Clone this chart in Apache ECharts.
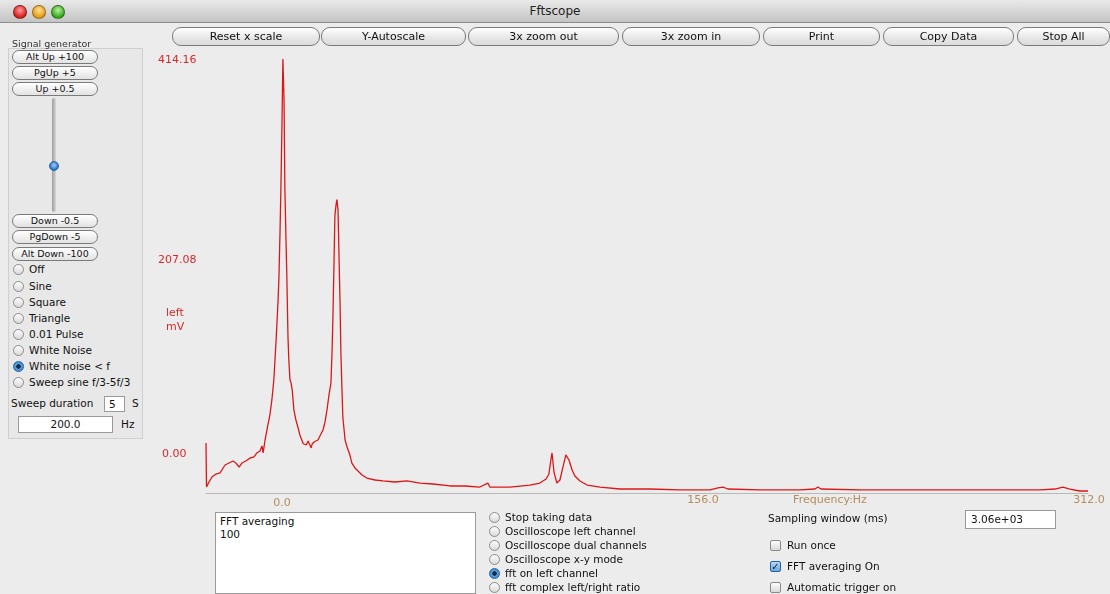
<!DOCTYPE html>
<html><head><meta charset="utf-8">
<script src="https://cdn.jsdelivr.net/npm/echarts@6/dist/echarts.min.js"></script>
<style>
html,body{margin:0;padding:0;width:1110px;height:594px;overflow:hidden;background:#ececec;font-family:"DejaVu Sans",sans-serif;}
#chart{position:absolute;left:0;top:0;width:1110px;height:594px;}
.ui{position:absolute;z-index:2;white-space:nowrap;color:#111;}
.titlebar{left:0;top:0;width:1110px;height:22px;background:linear-gradient(#e9e9e9,#c4c4c4);border-bottom:1px solid #8e8e8e;font-size:12px;text-align:center;line-height:22px;color:#222;}
.light{width:12px;height:12px;border-radius:50%;top:5px;border:1px solid rgba(0,0,0,0.35);}
.btn{height:17px;border:1px solid #7a7a7a;border-radius:9px;background:linear-gradient(#ffffff,#e6e6e6 60%,#dcdcdc);text-align:center;line-height:17px;font-size:11px;}
.sbtn{height:12px;border:1px solid #7a7a7a;border-radius:7px;background:linear-gradient(#ffffff,#e2e2e2);text-align:center;line-height:12px;font-size:9.5px;}
.lbl{font-size:10.5px;}
.radio{width:11px;height:11px;border-radius:50%;border:1px solid #8a8a8a;background:linear-gradient(#fdfdfd,#dadada);box-sizing:border-box;}
.radio.on{background:radial-gradient(circle,#1a2a40 0 2px,#5aa6e8 2.5px,#2f78c9 6px);border-color:#2a5f9e;}
.chk{width:11px;height:11px;border-radius:2px;border:1px solid #8a8a8a;background:linear-gradient(#fdfdfd,#dadada);box-sizing:border-box;font-size:10px;line-height:9px;text-align:center;color:#123;}
.chk.on{background:linear-gradient(#b6d8f6,#6aa6e2);border-color:#2a5f9e;}
.box{background:#fff;border:1px solid #9a9a9a;box-sizing:border-box;font-size:10.5px;}
</style></head>
<body>
<div id="chart"></div>
<div class="ui titlebar">Fftscope</div>
<div class="ui light" style="left:13px;background:radial-gradient(circle at 50% 35%,#ff9a9a,#d81d1d 70%);"></div>
<div class="ui light" style="left:32px;background:radial-gradient(circle at 50% 35%,#ffe09a,#e79b12 70%);"></div>
<div class="ui light" style="left:51px;background:radial-gradient(circle at 50% 35%,#b8f0a0,#36a81e 70%);"></div>
<div id="ui"></div>
<script>
// ---- chart data (frequency Hz, amplitude mV) ----
var freqHz = [0,0.18,1.06,2.12,3.54,4.95,6.72,8.13,9.55,10.6,11.7,12.7,14.1,15.6,17.0,18.0,19.1,19.8,20.2,20.9,21.9,22.6,23.3,24.0,24.8,25.5,25.8,26.2,26.5,26.9,27.2,27.6,27.9,28.3,28.6,29.0,29.3,29.7,30.1,30.5,31.1,31.8,32.5,33.2,33.9,34.4,35.0,35.5,36.1,36.8,37.2,37.5,38.2,38.9,39.6,40.3,41.4,42.1,42.8,43.5,44.2,44.6,44.9,45.3,45.6,46.0,46.3,46.7,47.0,47.4,47.7,48.1,48.4,49.2,49.9,50.9,51.6,52.7,53.4,55.2,56.9,59.8,62.6,66.8,71.1,75.7,80.3,86.3,91.6,96.9,99.7,100.4,107.5,114.6,118.1,120.3,121.3,122.0,122.4,122.7,123.1,124.1,125.2,126.2,127.3,127.7,128.4,129.5,130.5,132.3,134.8,139.4,146.4,157.0,167.6,178.3,181.1,182.9,184.6,196.0,210.0,215.4,216.5,217.5,231.3,245.5,263.2,280.8,295.0,300.3,303.1,305.6,309.1,312.0];
var ampMv = [47.7,5.7,10.5,15.3,18.1,19.1,26.7,28.6,30.5,28.6,24.8,28.6,30.5,33.4,34.4,38.2,40.1,44.9,38.2,50.6,64.9,74.4,88.8,107.8,146,184,206,251,291,356,414.16,375,291,241,206,149,127,108,105,98,79.2,69.7,63,55.4,50.6,47.0,48.7,46.0,49.6,47.7,43.0,46.5,48.7,47.7,50.6,54.4,60.1,67.8,79.2,93.5,105,136,168,222,265,275,280,270,232,184,136,98.3,72.5,50.6,43.9,36.3,28.6,23.9,21.9,17.2,14.3,12.4,11.5,10.5,11.5,9.5,8.6,6.7,6.7,5.7,9.5,5.7,5.7,7.6,9.5,13.4,18.1,31.5,38.2,36.3,20.0,9.5,12.4,23.9,36.3,37.2,31.5,21.9,16.2,11.5,7.6,5.7,3.8,3.8,2.9,2.9,4.8,5.7,3.8,2.9,2.9,3.8,5.7,3.8,2.9,2.9,2.9,2.9,2.9,3.8,5.7,3.8,1.9,1.9];
var yTickLabels = ["414.16","207.08","0.00"];
var xTickLabels = ["0.0","156.0","312.0"];
var yUnitLabel = "left\nmV";
var xUnitLabel = "Frequency:Hz";

var pts = freqHz.map(function(f,i){return [f, ampMv[i]];});
var chart = echarts.init(document.getElementById('chart'), null, {renderer:'canvas'});
var red = '#d42a2a', tan = '#b58d5c';
var gtexts = [
  {type:'text', left:158, top:55, style:{text:yTickLabels[0], fill:red, font:'11px "DejaVu Sans"'}},
  {type:'text', left:158, top:255, style:{text:yTickLabels[1], fill:red, font:'11px "DejaVu Sans"'}},
  {type:'text', left:166, top:306, style:{text:yUnitLabel, fill:red, font:'11px "DejaVu Sans"', lineHeight:14}},
  {type:'text', left:162, top:449, style:{text:yTickLabels[2], fill:red, font:'11px "DejaVu Sans"'}},
  {type:'text', x:282, y:503, style:{text:xTickLabels[0], fill:tan, font:'11px "DejaVu Sans"', textAlign:'center', textVerticalAlign:'middle'}},
  {type:'text', x:703, y:500, style:{text:xTickLabels[1], fill:tan, font:'11px "DejaVu Sans"', textAlign:'center', textVerticalAlign:'middle'}},
  {type:'text', x:830, y:500, style:{text:xUnitLabel, fill:tan, font:'11px "DejaVu Sans"', textAlign:'center', textVerticalAlign:'middle'}},
  {type:'text', x:1089, y:500, style:{text:xTickLabels[2], fill:tan, font:'11px "DejaVu Sans"', textAlign:'center', textVerticalAlign:'middle'}}
];
chart.setOption({
  animation:false,
  backgroundColor:'#ececec',
  grid:{left:206, right:22, top:59, bottom:101},
  xAxis:{type:'value', min:0, max:312, axisLine:{show:true, lineStyle:{color:'#b9b9b9', width:1}}, axisTick:{show:false}, axisLabel:{show:false}, splitLine:{show:false}},
  yAxis:{type:'value', min:0, max:414.16, axisLine:{show:false}, axisTick:{show:false}, axisLabel:{show:false}, splitLine:{show:false}},
  graphic:gtexts,
  series:[{type:'line', data:pts, showSymbol:false, lineStyle:{color:'#dc1616', width:1.3}, itemStyle:{color:'#dc1616'}}]
});

// ---- UI chrome ----
var ui = document.getElementById('ui');
function add(cls, l, t, w, h, txt, extra){
  var d = document.createElement('div');
  d.className = 'ui ' + cls;
  d.style.left = l + 'px'; d.style.top = t + 'px';
  if (w) d.style.width = w + 'px';
  if (h) d.style.height = h + 'px';
  if (txt !== undefined) d.textContent = txt;
  if (extra) d.setAttribute('style', d.getAttribute('style') + extra);
  ui.appendChild(d); return d;
}
var topBtns = [["Reset x scale",172,146],["Y-Autoscale",321,143],["3x zoom out",468,149],["3x zoom in",622,136],["Print",763,115],["Copy Data",883,129],["Stop All",1017,91]];
topBtns.forEach(function(b){ add('btn', b[1], 27, b[2], null, b[0]); });
add('lbl', 12, 38, null, null, 'Signal generator', 'font-size:9.5px;color:#333;');
add('', 8, 48, 133, 389, undefined, 'border:1px solid #cfcfcf;background:#e8e8e8;z-index:1;');
var sb = [["Alt Up  +100",50],["PgUp +5",66],["Up +0.5",82],["Down -0.5",214],["PgDown -5",230],["Alt Down -100",247]];
sb.forEach(function(b){ add('sbtn', 12, b[1], 84, null, b[0]); });
add('', 52, 98, 4, 114, undefined, 'background:linear-gradient(90deg,#9a9a9a,#d8d8d8);border-radius:2px;');
add('', 49, 161, 10, 10, undefined, 'border-radius:50%;background:radial-gradient(circle at 50% 40%,#9fd0ff,#2a73c8 70%);border:1px solid #2a5f9e;box-sizing:border-box;');
var radios = [["Off",270],["Sine",287],["Square",303],["Triangle",319],["0.01 Pulse",335],["White Noise",351],["White noise < f",367,1],["Sweep sine f/3-5f/3",383]];
radios.forEach(function(r){ add('radio' + (r[2]?' on':''), 13, r[1]-6); add('lbl', 29, r[1]-7, null, null, r[0]); });
add('lbl', 11, 397, null, null, 'Sweep duration');
add('box', 104, 396, 21, 16, '5', 'padding-left:4px;line-height:14px;');
add('lbl', 132, 397, null, null, 'S');
add('box', 18, 416, 95, 17, '200.0', 'text-align:center;line-height:15px;');
add('lbl', 121, 418, null, null, 'Hz');
add('box', 215, 512, 261, 82, 'FFT averaging\n100', 'white-space:pre;padding:2px 4px;line-height:13px;');
var br = [["Stop taking data",518],["Oscilloscope left channel",532],["Oscilloscope dual channels",546],["Oscilloscope x-y mode",560],["fft on left channel",574,1],["fft complex left/right ratio",588]];
br.forEach(function(r){ add('radio' + (r[2]?' on':''), 489, r[1]-6); add('lbl', 505, r[1]-7, null, null, r[0]); });
add('lbl', 768, 512, null, null, 'Sampling window (ms)');
add('box', 965, 510, 91, 19, '3.06e+03', 'padding-left:5px;line-height:17px;');
var cb = [["Run once",546],["FFT averaging On",567,1],["Automatic trigger on",588]];
cb.forEach(function(r){ add('chk' + (r[2]?' on':''), 770, r[1]-6, null, null, r[2] ? '\u2713' : ''); add('lbl', 787, r[1]-7, null, null, r[0]); });
</script>
</body></html>
